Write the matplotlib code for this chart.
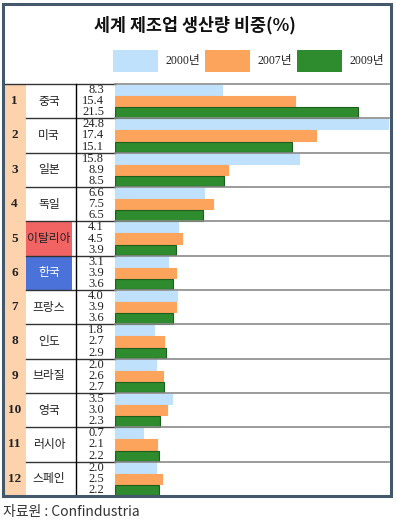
import matplotlib
matplotlib.use("Agg")
import numpy as np
import matplotlib.pyplot as plt
from matplotlib.patches import Rectangle
from matplotlib.transforms import blended_transform_factory

plt.rcParams["font.family"] = ["Noto Sans CJK KR", "DejaVu Sans"]

# data
countries = ["중국", "미국", "일본", "독일", "이탈리아", "한국",
             "프랑스", "인도", "브라질", "영국", "러시아", "스페인"]
ranks = [1, 2, 3, 4, 5, 6, 7, 8, 9, 10, 11, 12]
years = ["2000년", "2007년", "2009년"]
share_2000 = [8.3, 24.8, 15.8, 6.6, 4.1, 3.1, 4.0, 1.8, 2.0, 3.5, 0.7, 2.0]
share_2007 = [15.4, 17.4, 8.9, 7.5, 4.5, 3.9, 3.9, 2.7, 2.6, 3.0, 2.1, 2.5]
share_2009 = [21.5, 15.1, 8.5, 6.5, 3.9, 3.6, 3.6, 2.9, 2.7, 2.3, 2.2, 2.2]

colors = ["#bfe1fb", "#fca35c", "#2e8b2e"]
edges = ["#bfe1fb", "#fca35c", "#1d5f1d"]
frame_color = "#44586b"
serif = ["Liberation Serif", "Noto Sans CJK KR"]

W, H = 396, 522
fig = plt.figure(figsize=(W / 100, H / 100), dpi=100)

# bar axes, placed in pixel terms
left_px, right_px, top_px, bot_px = 115, 389, 84, 496
ax = fig.add_axes([left_px / W, 1 - bot_px / H,
                   (right_px - left_px) / W, (bot_px - top_px) / H])
axis_min = -2.0
ax.set_xlim(axis_min, 24.45)
ax.set_ylim(len(countries) - 0.5, -0.5)
ax.axis("off")

y = np.arange(len(countries))
offsets = [-0.33, 0.0, 0.33]
series = [share_2000, share_2007, share_2009]
for vals, off, c, e in zip(series, offsets, colors, edges):
    vals = np.array(vals)
    ax.barh(y + off, vals - axis_min, left=axis_min, height=0.3,
            color=c, edgecolor=e, linewidth=0.8)
    for yi, v in zip(y, vals):
        ax.annotate(f"{v:.1f}", xy=(0, yi + off), xycoords=("axes fraction", "data"),
                    xytext=(-11, 0), textcoords="offset pixels",
                    ha="right", va="center", fontsize=9, family=serif,
                    color="#222222")

# table decoration in pixel coords
bl = blended_transform_factory(ax.transAxes, ax.transData)
px = lambda p: (p - left_px) / (right_px - left_px)

ax.add_patch(Rectangle((px(3), -0.5), px(26) - px(3), len(countries),
                       transform=bl, facecolor="#fcd3ac", edgecolor="none",
                       clip_on=False, zorder=0))
highlight = {4: "#f26464", 5: "#4a72d9"}
for row, col in highlight.items():
    ax.add_patch(Rectangle((px(26), row - 0.5), px(72) - px(26), 1,
                           transform=bl, facecolor=col, edgecolor="none",
                           clip_on=False, zorder=0))

for b in np.arange(-0.5, len(countries), 1.0):
    start = px(3) if b == -0.5 else px(26)
    ax.plot([start, px(115)], [b, b], transform=bl,
            color="#333333", lw=1.0, clip_on=False)
    ax.plot([0, 1], [b, b], transform=bl, color="#8a8a8a", lw=1.2,
            clip_on=False, zorder=3)
ax.plot([px(76), px(76)], [-0.5, len(countries) - 0.5], transform=bl,
        color="black", lw=1.0, clip_on=False)

for yi, r, name in zip(y, ranks, countries):
    ax.text(px(14.5), yi, str(r), transform=bl, ha="center", va="center",
            fontsize=9.5, fontweight="bold", family=serif, color="#222222")
    ax.text(px(49), yi, name, transform=bl, ha="center", va="center",
            fontsize=8.5, color="white" if yi == 5 else "#222222")

# title, legend, source
fig.text(195 / W, 1 - 25 / H, "세계 제조업 생산량 비중(%)", ha="center", va="center",
         fontsize=12.5, fontweight="bold", color="#111111")
for i, (lbl, c) in enumerate(zip(years, colors)):
    x0 = 113 + 92 * i
    fig.patches.append(Rectangle((x0 / W, 1 - 72 / H), 45 / W, 22 / H,
                                 transform=fig.transFigure, facecolor=c,
                                 edgecolor="none"))
    fig.text((x0 + 52) / W, 1 - 61 / H, lbl, ha="left", va="center",
             fontsize=8.5, family=serif, color="#222222")

fig.text(3 / W, 1 - 512 / H, "자료원 : Confindustria", ha="left", va="center",
         fontsize=10, color="#333333")

# outer frame
fig.patches.append(Rectangle((3 / W, 1 - 496 / H), 388 / W, 492 / H,
                             transform=fig.transFigure, facecolor="none",
                             edgecolor=frame_color, linewidth=2.2))

fig.savefig("out.png", dpi=100)
